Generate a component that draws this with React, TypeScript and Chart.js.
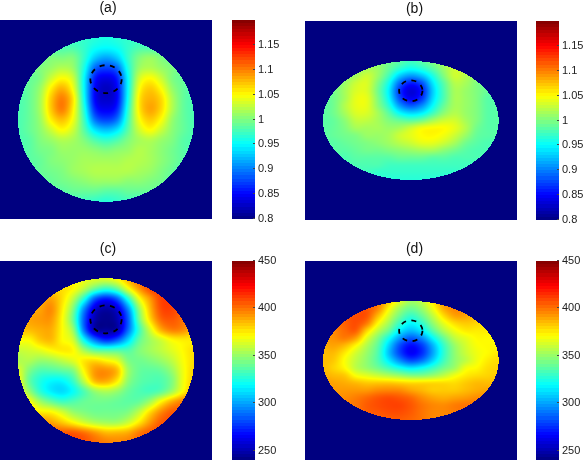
import React, { useEffect, useRef } from "react";
import { Chart, registerables } from "chart.js";

Chart.register(...registerables);

const FONT = "'Liberation Sans', Arial, sans-serif";

const GRID_U = [-1, -0.875, -0.75, -0.625, -0.5, -0.375, -0.25, -0.125, 0, 0.125, 0.25, 0.375, 0.5, 0.625, 0.75, 0.875, 1];
const GRID_V = [1, 0.875, 0.75, 0.625, 0.5, 0.375, 0.25, 0.125, 0, -0.125, -0.25, -0.375, -0.5, -0.625, -0.75, -0.875, -1];

const fieldA = [
  [0.97, 0.97, 0.97, 0.97, 0.97, 0.97, 0.97, 0.965, 0.96, 0.965, 0.97, 0.97, 0.97, 0.97, 0.97, 0.97, 0.97],
  [0.98, 0.98, 0.98, 0.98, 0.98, 0.98, 0.97, 0.955, 0.95, 0.955, 0.97, 0.98, 0.98, 0.98, 0.98, 0.98, 0.98],
  [0.99, 0.99, 0.99, 1.0, 1.0, 1.0, 0.97, 0.93, 0.915, 0.93, 0.97, 1.0, 1.01, 1.0, 0.99, 0.99, 0.99],
  [0.99, 0.99, 1.0, 1.01, 1.02, 1.01, 0.96, 0.89, 0.875, 0.89, 0.96, 1.01, 1.02, 1.01, 1.0, 0.99, 0.99],
  [0.99, 0.99, 1.0, 1.03, 1.05, 1.03, 0.95, 0.86, 0.84, 0.86, 0.95, 1.03, 1.05, 1.03, 1.0, 0.99, 0.99],
  [0.98, 0.99, 1.01, 1.055, 1.08, 1.045, 0.95, 0.85, 0.825, 0.85, 0.95, 1.045, 1.07, 1.05, 1.01, 0.99, 0.98],
  [0.98, 0.99, 1.015, 1.07, 1.1, 1.06, 0.955, 0.85, 0.83, 0.85, 0.955, 1.055, 1.08, 1.065, 1.02, 0.99, 0.98],
  [0.98, 0.99, 1.015, 1.07, 1.1, 1.055, 0.965, 0.865, 0.845, 0.865, 0.965, 1.055, 1.085, 1.065, 1.02, 0.99, 0.98],
  [0.98, 0.99, 1.01, 1.055, 1.075, 1.045, 0.975, 0.895, 0.875, 0.895, 0.975, 1.045, 1.07, 1.05, 1.01, 0.99, 0.98],
  [0.98, 0.99, 1.005, 1.03, 1.05, 1.03, 0.985, 0.94, 0.925, 0.94, 0.985, 1.03, 1.05, 1.03, 1.005, 0.99, 0.98],
  [0.98, 0.985, 1.0, 1.01, 1.02, 1.015, 1.0, 0.98, 0.97, 0.98, 1.0, 1.015, 1.02, 1.01, 1.0, 0.985, 0.98],
  [0.98, 0.985, 0.995, 1.0, 1.01, 1.01, 1.01, 1.005, 1.0, 1.005, 1.01, 1.02, 1.015, 1.005, 0.995, 0.985, 0.98],
  [0.98, 0.985, 0.99, 1.0, 1.005, 1.01, 1.015, 1.015, 1.015, 1.015, 1.02, 1.02, 1.015, 1.005, 0.995, 0.985, 0.98],
  [0.98, 0.98, 0.99, 0.995, 1.0, 1.01, 1.015, 1.02, 1.02, 1.02, 1.02, 1.015, 1.01, 1.0, 0.99, 0.98, 0.98],
  [0.98, 0.98, 0.985, 0.99, 0.995, 1.0, 1.005, 1.01, 1.01, 1.01, 1.005, 1.005, 1.0, 0.995, 0.985, 0.98, 0.98],
  [0.98, 0.98, 0.98, 0.985, 0.985, 0.99, 0.99, 0.99, 0.985, 0.985, 0.99, 0.99, 0.99, 0.985, 0.98, 0.98, 0.98],
  [0.97, 0.97, 0.97, 0.97, 0.97, 0.975, 0.975, 0.97, 0.965, 0.97, 0.975, 0.975, 0.97, 0.97, 0.97, 0.97, 0.97],
];

const fieldB = [
  [0.99, 0.99, 0.99, 0.99, 1.0, 1.0, 0.995, 0.985, 0.975, 0.985, 1.0, 1.015, 1.025, 1.015, 1.0, 0.99, 0.99],
  [0.99, 0.99, 0.99, 1.0, 1.015, 1.01, 0.99, 0.968, 0.955, 0.965, 0.985, 1.01, 1.03, 1.02, 1.0, 0.99, 0.99],
  [0.99, 0.99, 1.0, 1.015, 1.03, 1.01, 0.975, 0.93, 0.91, 0.925, 0.96, 1.0, 1.03, 1.02, 1.005, 0.99, 0.99],
  [0.99, 0.995, 1.01, 1.03, 1.035, 1.0, 0.955, 0.89, 0.86, 0.88, 0.94, 0.985, 1.02, 1.015, 1.0, 0.99, 0.99],
  [0.985, 0.995, 1.015, 1.035, 1.035, 0.995, 0.945, 0.87, 0.835, 0.86, 0.93, 0.98, 1.015, 1.01, 1.0, 0.99, 0.985],
  [0.985, 0.995, 1.015, 1.04, 1.04, 1.0, 0.95, 0.88, 0.845, 0.87, 0.935, 0.98, 1.015, 1.01, 1.0, 0.985, 0.985],
  [0.985, 0.995, 1.02, 1.04, 1.04, 1.005, 0.965, 0.91, 0.885, 0.905, 0.95, 0.99, 1.015, 1.01, 1.0, 0.985, 0.985],
  [0.985, 0.995, 1.015, 1.035, 1.035, 1.015, 0.985, 0.95, 0.935, 0.945, 0.975, 1.005, 1.02, 1.01, 1.0, 0.985, 0.985],
  [0.985, 0.99, 1.005, 1.025, 1.025, 1.015, 1.0, 0.99, 0.985, 0.995, 1.015, 1.03, 1.032, 1.015, 1.0, 0.985, 0.985],
  [0.985, 0.99, 1.0, 1.015, 1.015, 1.015, 1.01, 1.015, 1.03, 1.045, 1.05, 1.05, 1.04, 1.02, 0.995, 0.985, 0.985],
  [0.985, 0.99, 0.995, 1.0, 1.01, 1.01, 1.015, 1.03, 1.04, 1.05, 1.052, 1.045, 1.03, 1.01, 0.99, 0.985, 0.985],
  [0.985, 0.985, 0.99, 0.995, 1.0, 1.005, 1.012, 1.022, 1.03, 1.04, 1.04, 1.03, 1.015, 0.995, 0.985, 0.98, 0.98],
  [0.98, 0.985, 0.985, 0.99, 0.995, 0.995, 1.0, 1.005, 1.01, 1.015, 1.015, 1.005, 0.995, 0.985, 0.98, 0.98, 0.98],
  [0.98, 0.98, 0.98, 0.985, 0.985, 0.985, 0.985, 0.99, 0.99, 0.99, 0.985, 0.985, 0.98, 0.98, 0.98, 0.98, 0.98],
  [0.98, 0.98, 0.98, 0.98, 0.98, 0.98, 0.975, 0.975, 0.975, 0.975, 0.975, 0.975, 0.975, 0.975, 0.975, 0.98, 0.98],
  [0.98, 0.98, 0.98, 0.975, 0.975, 0.97, 0.97, 0.97, 0.97, 0.97, 0.97, 0.97, 0.97, 0.975, 0.975, 0.98, 0.98],
  [0.97, 0.97, 0.97, 0.97, 0.97, 0.97, 0.965, 0.965, 0.965, 0.965, 0.965, 0.965, 0.97, 0.97, 0.97, 0.97, 0.97],
];

const fieldC = [
  [375, 375, 375, 375, 378, 372, 368, 366, 366, 372, 388, 402, 405, 405, 400, 395, 390],
  [380, 380, 380, 380, 378, 372, 358, 340, 330, 340, 368, 392, 408, 410, 405, 395, 390],
  [388, 388, 388, 390, 378, 358, 325, 285, 272, 285, 325, 368, 392, 410, 410, 402, 392],
  [388, 388, 390, 395, 375, 345, 295, 258, 248, 258, 295, 348, 385, 408, 410, 402, 392],
  [388, 390, 392, 392, 372, 340, 285, 250, 243, 250, 285, 340, 378, 402, 406, 400, 392],
  [385, 385, 388, 388, 372, 350, 290, 250, 246, 250, 288, 330, 362, 388, 398, 395, 385],
  [372, 372, 382, 385, 372, 362, 320, 290, 275, 285, 310, 338, 352, 362, 372, 375, 375],
  [360, 362, 366, 372, 375, 372, 352, 338, 335, 335, 335, 345, 352, 358, 365, 372, 378],
  [355, 355, 350, 352, 358, 365, 375, 378, 372, 365, 345, 342, 345, 350, 358, 370, 378],
  [365, 345, 335, 335, 338, 345, 372, 392, 394, 385, 352, 340, 338, 340, 350, 368, 380],
  [370, 340, 325, 318, 318, 330, 358, 385, 388, 375, 348, 338, 335, 335, 345, 368, 382],
  [372, 350, 328, 316, 312, 320, 335, 350, 355, 350, 340, 335, 333, 338, 352, 372, 388],
  [385, 372, 352, 340, 332, 335, 340, 342, 342, 340, 338, 340, 352, 372, 388, 398, 400],
  [392, 385, 375, 372, 362, 350, 345, 342, 342, 342, 345, 358, 378, 395, 405, 405, 402],
  [400, 398, 395, 390, 382, 372, 362, 355, 352, 352, 360, 375, 392, 405, 408, 405, 402],
  [405, 405, 405, 405, 405, 405, 400, 392, 385, 385, 388, 398, 405, 408, 405, 402, 400],
  [408, 408, 408, 408, 410, 410, 408, 402, 398, 396, 398, 402, 405, 405, 405, 402, 400],
];

const fieldD = [
  [398, 398, 398, 400, 402, 398, 382, 365, 352, 358, 375, 392, 398, 395, 390, 385, 380],
  [402, 402, 402, 405, 406, 396, 372, 352, 342, 350, 368, 388, 396, 395, 390, 385, 380],
  [402, 402, 405, 408, 406, 385, 362, 342, 330, 340, 358, 378, 390, 390, 385, 382, 380],
  [398, 400, 404, 408, 398, 372, 352, 330, 318, 328, 348, 366, 378, 382, 380, 378, 378],
  [394, 396, 402, 404, 380, 358, 340, 316, 305, 315, 336, 355, 368, 375, 375, 375, 375],
  [392, 394, 398, 390, 365, 345, 322, 298, 285, 295, 318, 340, 358, 366, 372, 372, 372],
  [388, 390, 385, 372, 355, 338, 310, 282, 268, 278, 303, 330, 350, 362, 370, 372, 372],
  [385, 385, 375, 362, 350, 335, 306, 280, 265, 275, 300, 328, 348, 360, 368, 372, 375],
  [385, 382, 370, 358, 348, 335, 315, 295, 282, 290, 310, 332, 348, 358, 368, 375, 378],
  [385, 380, 372, 358, 350, 342, 332, 322, 315, 320, 330, 342, 352, 368, 372, 378, 380],
  [388, 385, 382, 370, 365, 360, 355, 350, 345, 345, 350, 358, 368, 375, 378, 380, 382],
  [392, 390, 388, 385, 382, 382, 382, 380, 378, 378, 378, 378, 378, 382, 385, 385, 385],
  [394, 392, 392, 392, 392, 395, 396, 395, 390, 386, 382, 382, 382, 385, 388, 390, 390],
  [395, 395, 395, 398, 402, 406, 408, 406, 402, 395, 390, 388, 390, 392, 395, 395, 392],
  [398, 398, 398, 400, 405, 408, 410, 410, 406, 400, 396, 395, 398, 400, 400, 398, 395],
  [398, 398, 398, 400, 404, 406, 408, 408, 405, 400, 396, 396, 398, 400, 400, 398, 395],
  [398, 398, 398, 400, 402, 404, 405, 405, 403, 400, 396, 396, 398, 400, 400, 398, 395],
];

const ticksUpper = [0.8, 0.85, 0.9, 0.95, 1, 1.05, 1.1, 1.15];
const ticksLower = [250, 300, 350, 400, 450];

const PX_PER_UNIT = 88;
const IMG_W = 212;
const IMG_H = 199;
const BAR_W = 23;
const BAR_CANVAS_W = 49;
const BAR_PAD = 8;

const jet = (t: number): [number, number, number] => {
  const c = (x: number) => Math.round(255 * Math.max(0, Math.min(1, x)));
  return [c(1.5 - Math.abs(4 * t - 3)), c(1.5 - Math.abs(4 * t - 2)), c(1.5 - Math.abs(4 * t - 1))];
};

const cubic = (a: number, b: number, c: number, d: number, t: number) =>
  b + 0.5 * t * (c - a + t * (2 * a - 5 * b + 4 * c - d + t * (3 * (b - c) + d - a)));

function sampleField(field: number[][], u: number, v: number) {
  const n = GRID_U.length - 1;
  const fx = Math.max(0, Math.min(n - 1e-6, (u + 1) * 8));
  const fy = Math.max(0, Math.min(n - 1e-6, (1 - v) * 8));
  const ix = Math.floor(fx);
  const iy = Math.floor(fy);
  const rowAt = (r: number) => {
    const row = field[Math.max(0, Math.min(n, r))];
    const g = (i: number) => row[Math.max(0, Math.min(n, i))];
    return cubic(g(ix - 1), g(ix), g(ix + 1), g(ix + 2), fx - ix);
  };
  return cubic(rowAt(iy - 1), rowAt(iy), rowAt(iy + 1), rowAt(iy + 2), fy - iy);
}

type Panel = {
  title: string;
  field: number[][];
  left: number;
  top: number;
  titleShift: number;
  ratio: number;
  circleV: number;
  circleR: number;
  circleRy: number;
  min: number;
  max: number;
  barLeft: number;
  barTop: number;
  ticks: number[];
};

const panels: Panel[] = [
  { title: "(a)", field: fieldA, left: 0, top: 20, titleShift: 2, ratio: 0.935, circleV: 0.49, circleR: 0.178, circleRy: 0.159, min: 0.8, max: 1.2, barLeft: 232, barTop: 20, ticks: ticksUpper },
  { title: "(b)", field: fieldB, left: 305, top: 21, titleShift: 3.7, ratio: 0.676, circleV: 0.5, circleR: 0.133, circleRy: 0.119, min: 0.8, max: 1.2, barLeft: 536, barTop: 21, ticks: ticksUpper },
  { title: "(c)", field: fieldC, left: 0, top: 261, titleShift: 2, ratio: 0.935, circleV: 0.5, circleR: 0.178, circleRy: 0.159, min: 240, max: 450, barLeft: 232, barTop: 261, ticks: ticksLower },
  { title: "(d)", field: fieldD, left: 305, top: 261, titleShift: 3.7, ratio: 0.676, circleV: 0.5, circleR: 0.133, circleRy: 0.119, min: 240, max: 450, barLeft: 536, barTop: 261, ticks: ticksLower },
];

function makeField(canvas: HTMLCanvasElement, p: Panel) {
  const points: { x: number; y: number; v: number }[] = [];
  p.field.forEach((row, r) =>
    row.forEach((val, c) => points.push({ x: GRID_U[c], y: GRID_V[r] * p.ratio, v: val }))
  );
  const halfW = IMG_W / 2 / PX_PER_UNIT;
  const halfH = IMG_H / 2 / PX_PER_UNIT;
  const extra = (2 * p.titleShift) / PX_PER_UNIT;
  const plugin = {
    id: "fieldImage",
    beforeDatasetsDraw(chart: any) {
      const { x, y } = chart.scales;
      const ctx = chart.ctx as CanvasRenderingContext2D;
      const px0 = Math.round(x.getPixelForValue(-halfW));
      const px1 = Math.round(x.getPixelForValue(halfW));
      const py0 = Math.round(y.getPixelForValue(halfH));
      const py1 = Math.round(y.getPixelForValue(-halfH));
      const w = px1 - px0;
      const h = py1 - py0;
      const img = ctx.createImageData(w, h);
      const span = p.max - p.min;
      for (let j = 0; j < h; j++) {
        for (let i = 0; i < w; i++) {
          const u = x.getValueForPixel(px0 + i + 0.5);
          const v = y.getValueForPixel(py0 + j + 0.5) / p.ratio;
          const inside = u * u + v * v <= 1;
          const t = inside ? (sampleField(p.field, u, v) - p.min) / span : 0;
          const [r, g, b] = jet(Math.max(0, Math.min(1, t)));
          const k = (j * w + i) * 4;
          img.data[k] = r;
          img.data[k + 1] = g;
          img.data[k + 2] = b;
          img.data[k + 3] = 255;
        }
      }
      ctx.putImageData(img, px0, py0);
    },
    afterDatasetsDraw(chart: any) {
      const { x, y } = chart.scales;
      const ctx = chart.ctx as CanvasRenderingContext2D;
      const cx = x.getPixelForValue(0);
      const cy = y.getPixelForValue(p.circleV * p.ratio);
      const rx = x.getPixelForValue(p.circleR) - cx;
      const ry = Math.abs(y.getPixelForValue(p.circleRy) - y.getPixelForValue(0));
      ctx.save();
      ctx.strokeStyle = "#000";
      ctx.lineWidth = 1.8;
      ctx.setLineDash([5, 5.5]);
      ctx.beginPath();
      ctx.ellipse(cx, cy, rx, ry, 0, 0, Math.PI * 2);
      ctx.stroke();
      ctx.restore();
    },
  };
  return new Chart(canvas, {
    type: "scatter",
    data: { datasets: [{ data: points, pointRadius: 0, showLine: false }] },
    options: {
      animation: false,
      responsive: false,
      layout: { padding: 0 },
      plugins: {
        legend: { display: false },
        tooltip: { enabled: false },
        title: {
          display: true,
          text: p.title,
          color: "#111",
          font: { family: FONT, size: 14, weight: "normal", lineHeight: 1.2 },
          padding: { top: 0, bottom: 3.2 },
        },
      },
      scales: {
        x: { display: false, type: "linear", min: -halfW, max: halfW + extra },
        y: { display: false, type: "linear", min: -halfH, max: halfH },
      },
    },
    plugins: [plugin],
  } as any);
}

function makeBar(canvas: HTMLCanvasElement, p: Panel) {
  const ticksPlugin = {
    id: "innerTicks",
    afterDatasetsDraw(chart: any) {
      const { y } = chart.scales;
      const ctx = chart.ctx as CanvasRenderingContext2D;
      const right = chart.chartArea.right;
      ctx.save();
      ctx.strokeStyle = "#444";
      ctx.lineWidth = 1;
      p.ticks.forEach((t) => {
        const py = Math.round(y.getPixelForValue(t)) - 0.5;
        ctx.beginPath();
        ctx.moveTo(right - 2, py);
        ctx.lineTo(right, py);
        ctx.stroke();
      });
      ctx.restore();
    },
  };
  return new Chart(canvas, {
    type: "bar",
    data: {
      labels: ["colour"],
      datasets: [
        {
          data: [[p.min, p.max]],
          barPercentage: 1,
          categoryPercentage: 1,
          borderWidth: 0,
          backgroundColor: (c: any) => {
            const area = c.chart.chartArea;
            if (!area) return "#000";
            const grad = c.chart.ctx.createLinearGradient(0, area.bottom, 0, area.top);
            for (let i = 0; i < 64; i++) {
              const [r, g, b] = jet((i + 0.5) / 64);
              grad.addColorStop(i / 64, `rgb(${r},${g},${b})`);
              grad.addColorStop((i + 1) / 64, `rgb(${r},${g},${b})`);
            }
            return grad;
          },
        },
      ],
    },
    options: {
      animation: false,
      responsive: false,
      layout: { padding: { top: BAR_PAD, bottom: BAR_PAD } },
      plugins: { legend: { display: false }, tooltip: { enabled: false }, title: { display: false } },
      scales: {
        x: { display: false },
        y: {
          position: "right",
          type: "linear",
          min: p.min,
          max: p.max,
          border: { display: false },
          grid: { display: false, drawTicks: false },
          afterBuildTicks: (axis: any) => {
            axis.ticks = p.ticks.map((value) => ({ value }));
          },
          afterFit: (axis: any) => {
            axis.width = BAR_CANVAS_W - BAR_W;
            axis.paddingTop = 0;
            axis.paddingBottom = 0;
          },
          ticks: {
            autoSkip: false,
            maxRotation: 0,
            padding: 3,
            color: "#222",
            font: { family: FONT, size: 11 },
            callback: (v: any) => String(v),
          },
        },
      },
    },
    plugins: [ticksPlugin],
  } as any);
}

function Panel_({ p }: { p: Panel }) {
  const fieldRef = useRef<HTMLCanvasElement>(null);
  const barRef = useRef<HTMLCanvasElement>(null);
  useEffect(() => {
    const a = makeField(fieldRef.current!, p);
    const b = makeBar(barRef.current!, p);
    return () => {
      a.destroy();
      b.destroy();
    };
  }, [p]);
  const fieldW = IMG_W + 2 * p.titleShift;
  return (
    <>
      <canvas
        ref={fieldRef}
        width={Math.round(fieldW)}
        height={IMG_H + 20}
        style={{ position: "absolute", left: p.left, top: p.top - 20 }}
      />
      <canvas
        ref={barRef}
        width={BAR_CANVAS_W}
        height={IMG_H + BAR_PAD * 2}
        style={{ position: "absolute", left: p.barLeft, top: p.barTop - BAR_PAD }}
      />
    </>
  );
}

export default function App() {
  return (
    <div style={{ position: "fixed", left: 0, top: 0, width: 585, height: 461, overflow: "hidden", background: "#fff" }}>
      {panels.map((p) => (
        <Panel_ key={p.title} p={p} />
      ))}
    </div>
  );
}
